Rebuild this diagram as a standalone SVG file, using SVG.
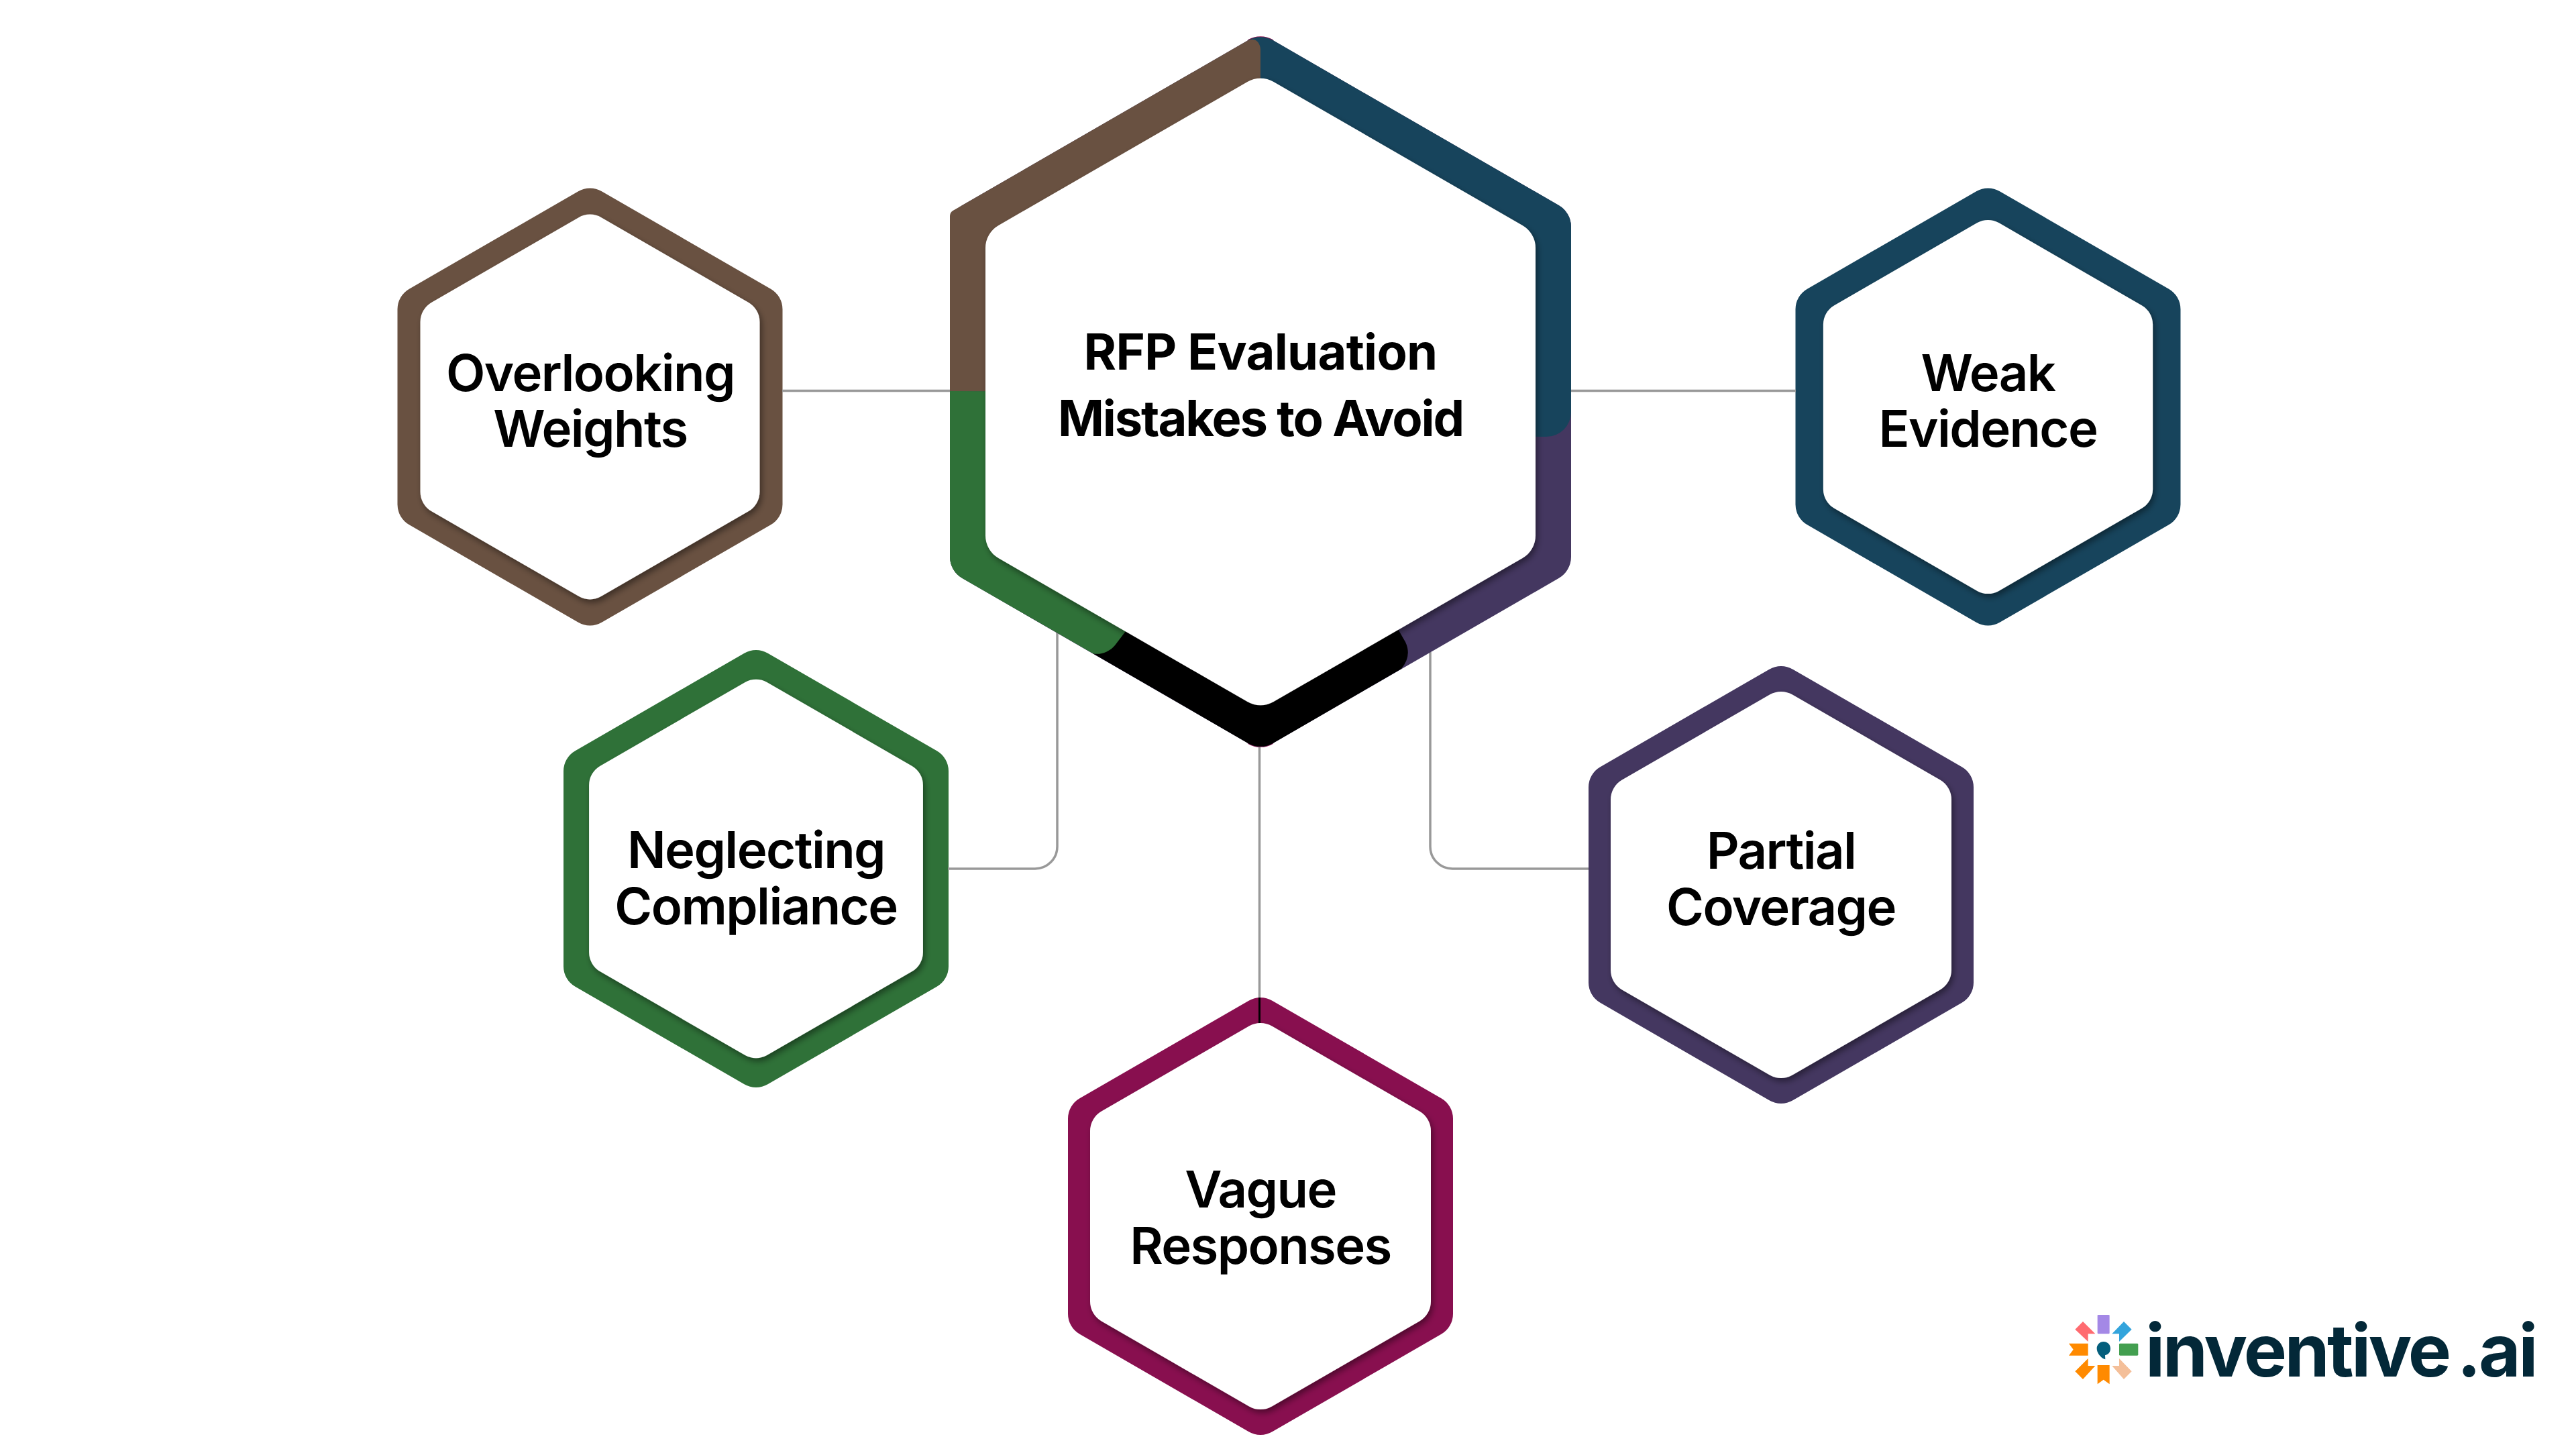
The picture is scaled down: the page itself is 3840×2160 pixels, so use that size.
<svg xmlns="http://www.w3.org/2000/svg" xmlns:xlink="http://www.w3.org/1999/xlink" width="3840" height="2160" viewBox="0 0 3840 2160">
<style>
.lbl{font-family:"Inter","Liberation Sans",sans-serif;font-weight:600;font-size:76px;fill:#000;text-anchor:middle;letter-spacing:-1.6px}
.ttl{font-family:"Inter","Liberation Sans",sans-serif;font-weight:700;font-size:74px;fill:#000;text-anchor:middle}
.conn{fill:none;stroke:#999;stroke-width:3.5}
.white{fill:#fff;filter:url(#sh)}
.logo{font-family:"Inter","Liberation Sans",sans-serif;font-weight:700;font-size:108px;fill:#032838;letter-spacing:-3.6px}
</style>
<defs>
<filter id="sh" x="-10%" y="-10%" width="120%" height="120%"><feDropShadow dx="3" dy="5" stdDeviation="5" flood-color="#000" flood-opacity=".42"/></filter>
<path id="so" d="M-17.5 -321.3A35 35 0 0 1 17.5 -321.3L269.5 -175.8A35 35 0 0 1 287 -145.5L287 145.5A35 35 0 0 1 269.5 175.8L17.5 321.3A35 35 0 0 1 -17.5 321.3L-269.5 175.8A35 35 0 0 1 -287 145.5L-287 -145.5A35 35 0 0 1 -269.5 -175.8Z"/>
<path id="si" d="M-17 -283.5A34 34 0 0 1 17 -283.5L237 -156.45A34 34 0 0 1 254 -127.05L254 127.05A34 34 0 0 1 237 156.45L17 283.5A34 34 0 0 1 -17 283.5L-237 156.45A34 34 0 0 1 -254 127.05L-254 -127.05A34 34 0 0 1 -237 -156.45Z"/>
<path id="co" d="M-18.5 -523.9A37 37 0 0 1 18.5 -523.9L444.5 -278A37 37 0 0 1 463 -245.9L463 245.9A37 37 0 0 1 444.5 278L18.5 523.9A37 37 0 0 1 -18.5 523.9L-444.5 278A37 37 0 0 1 -463 245.9L-463 -245.9A37 37 0 0 1 -444.5 -278Z"/>
<path id="ci" d="M-19.5 -462.1A39 39 0 0 1 19.5 -462.1L390.5 -248A39 39 0 0 1 410 -214.2L410 214.2A39 39 0 0 1 390.5 248L19.5 462.1A39 39 0 0 1 -19.5 462.1L-390.5 248A39 39 0 0 1 -410 214.2L-410 -214.2A39 39 0 0 1 -390.5 -248Z"/>
</defs>
<rect width="3840" height="2160" fill="#fff"/>
<g id="node-overlooking" transform="translate(879.5 606.5)"><use href="#so" fill="#695141"/><use href="#si" class="white" transform="scale(.996)"/></g>
<g id="node-weak" transform="translate(2963.5 606.5)"><use href="#so" fill="#17445c"/><use href="#si" class="white" transform="scale(.967)"/></g>
<g id="node-neglecting" transform="translate(1127 1295)"><use href="#so" fill="#2f7138"/><use href="#si" class="white" transform="scale(.98)"/></g>
<g id="node-partial" transform="translate(2655 1319)"><use href="#so" fill="#443760"/><use href="#si" class="white"/></g>
<g id="node-vague" transform="translate(1879 1813)"><use href="#so" fill="#880f4f"/><use href="#si" class="white"/></g>
<g id="connectors">
<path class="conn" d="M1166 582.5H1417"/>
<path class="conn" d="M2341 582.5H2677"/>
<path class="conn" d="M1576 943V1262A33 33 0 0 1 1543 1295H1413"/>
<path class="conn" d="M2132 972V1262A33 33 0 0 0 2165 1295H2368"/>
<path class="conn" d="M1877.5 1113V1487"/>
<path d="M1877.5 1487V1525" fill="none" stroke="#000" stroke-width="3"/>
</g>
<g id="node-center" transform="translate(1879 584)">
<path d="M-18.5 -524.9A37 37 0 0 1 18.5 -524.9L30 -500H-30Z" fill="#880f4f"/>
<path d="M-18.5 524.9A37 37 0 0 0 18.5 524.9L30 500H-30Z" fill="#880f4f"/>
<use href="#co" fill="#443760"/>
<path d="M-18.5 -523.9A37 37 0 0 1 18.5 -523.9L444.5 -278A37 37 0 0 1 463 -245.9L463 30A37 37 0 0 1 426 67L390 67L0 0Z" fill="#17445c"/>
<path d="M-250 390L-18.5 523.9A37 37 0 0 0 18.5 523.9L209.6 413.3Q226 394 216 373L205 354L0 0Z" fill="#000"/>
<path d="M-463 -1L-463 245.9A37 37 0 0 0 -444.5 278L-250 390C-240 393 -225 388 -217 378L-201 357L0 0Z" fill="#2f7138"/>
<path d="M0 0L0 -510C0 -520 -8 -530 -20 -523.05L-458 -270.2Q-463 -267.3 -463 -262L-463 -1Z" fill="#695141"/>
<use href="#ci" class="white"/>
</g>
<g id="labels">
<text class="ttl" x="1879" y="551" style="letter-spacing:-.7px">RFP Evaluation</text>
<text class="ttl" x="1879" y="650" style="letter-spacing:-2.1px">Mistakes to Avoid</text>
<text class="lbl" x="880" y="582.5">Overlooking</text>
<text class="lbl" x="880" y="666">Weights</text>
<text class="lbl" x="2963.5" y="582.5">Weak</text>
<text class="lbl" x="2963.5" y="666">Evidence</text>
<text class="lbl" x="1127" y="1293.5">Neglecting</text>
<text class="lbl" x="1127" y="1378">Compliance</text>
<text class="lbl" x="2655" y="1295">Partial</text>
<text class="lbl" x="2655" y="1379">Coverage</text>
<text class="lbl" x="1879" y="1800">Vague</text>
<text class="lbl" x="1879" y="1884">Responses</text>
</g>
<g id="logo">
<g transform="translate(3070 1950) scale(.3333)">
<rect x="170" y="30" width="54" height="85" rx="4" fill="#a488e6"/>
<rect x="267" y="158" width="85" height="54" rx="4" fill="#439f50"/>
<path d="M42 158H128V212H42L62 185Z" fill="#ff8a00"/>
<path d="M170 255H224V340L197 320L170 340Z" fill="#ff8a00"/>
<path d="M105 60L70 95L128 150V115H160Z" fill="#ff6b70"/>
<path d="M288 60L323 95L267 150V115H235Z" fill="#33a4dc"/>
<path d="M128 225L70 283L105 318L160 258H128Z" fill="#ff8a00"/>
<path d="M267 225L323 283L288 318L235 258H267Z" fill="#f4bf99"/>
<path d="M197 150C218 150 228 166 228 181C228 198 218 208 204 211L205 229L196 226C180 216 167 198 167 180C167 164 180 150 197 150Z" fill="#045e7c"/>
</g>
<text class="logo" x="3198" y="2052">inventive<tspan dx="12">.ai</tspan></text>
</g>
</svg>
